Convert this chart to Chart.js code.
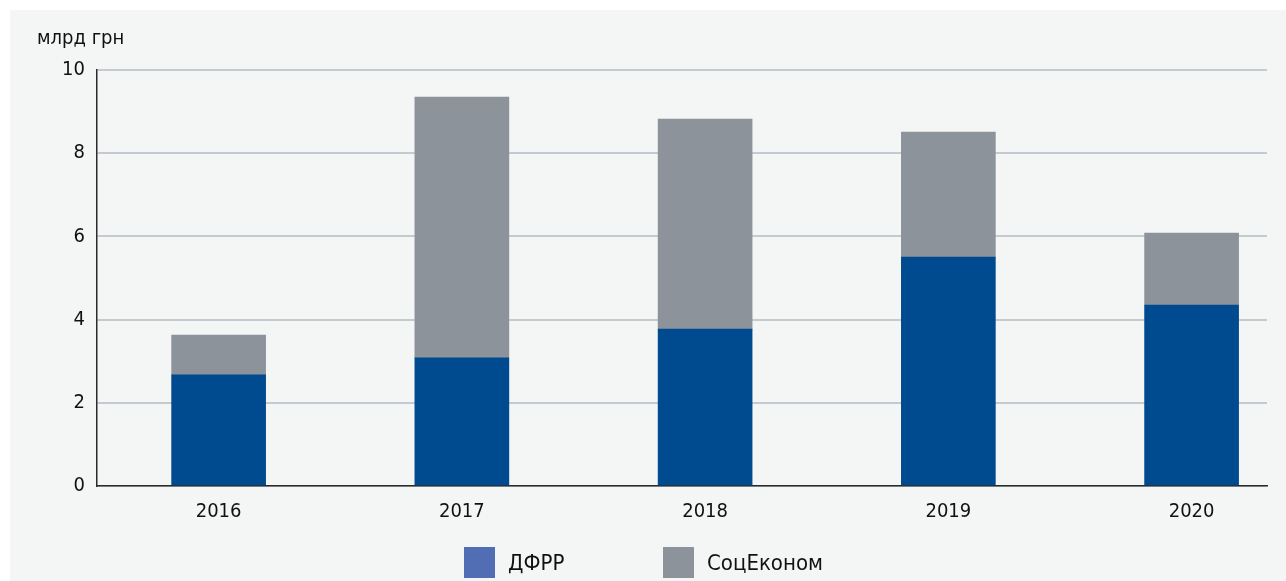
<!DOCTYPE html>
<html lang="uk">
<head>
<meta charset="utf-8">
<title>ДФРР і СоцЕконом, млрд грн</title>
<script src="https://cdn.jsdelivr.net/npm/chart.js@4/dist/chart.umd.min.js"></script>
<style>
  html, body { margin: 0; padding: 0; background: #ffffff; width: 1286px; height: 581px; overflow: hidden; }
  #panel { position: absolute; left: 10px; top: 10px; width: 1276px; height: 571px; background: #f4f6f5; }
  #wrap { position: absolute; left: 0; top: 0; width: 1286px; height: 581px; }
  #legend { position: absolute; left: 464px; top: 547px; margin: 0; padding: 0; list-style: none; display: flex;
            font-family: "DejaVu Sans Condensed", "Roboto", sans-serif; font-size: 22px; color: #111111; }
  #legend li { display: flex; align-items: center; width: 199px; height: 31px; }
  #legend .box { width: 31px; height: 31px; margin-right: 13px; flex: none; }
</style>
</head>
<body>
<div id="panel"></div>
<div id="wrap"><canvas id="chart" width="1286" height="581"></canvas></div>
<ul id="legend"></ul>
<script>
// Years on the horizontal axis
const years = ['2016', '2017', '2018', '2019', '2020'];
// Series names
const seriesNames = ['ДФРР', 'СоцЕконом'];
// Amounts, bn UAH
const dfrr = [2.67, 3.08, 3.77, 5.50, 4.35];
const socEkonom = [0.96, 6.27, 5.05, 3.01, 1.73];
// Vertical axis ticks
const yTicks = [0, 2, 4, 6, 8, 10];
const yUnit = 'млрд грн';

const barColors = ['#004a8f', '#8c939b'];
const legendColors = ['#516db4', '#8c939b'];
const FONT = '"DejaVu Sans Condensed", "Roboto", sans-serif';

const toPoints = (values) => values.map((v, i) => ({ x: i, y: v }));

// Legend rendered as HTML list from the chart's own legend items
const htmlLegend = {
  id: 'htmlLegend',
  afterUpdate(chart) {
    const ul = document.getElementById('legend');
    ul.innerHTML = '';
    const items = chart.options.plugins.legend.labels.generateLabels(chart);
    items.forEach((item) => {
      const li = document.createElement('li');
      const box = document.createElement('span');
      box.className = 'box';
      box.style.background = legendColors[item.datasetIndex];
      const text = document.createElement('span');
      text.textContent = item.text;
      li.appendChild(box);
      li.appendChild(text);
      ul.appendChild(li);
    });
  }
};

new Chart(document.getElementById('chart'), {
  type: 'bar',
  data: {
    datasets: [
      { label: seriesNames[0], data: toPoints(dfrr), backgroundColor: barColors[0] },
      { label: seriesNames[1], data: toPoints(socEkonom), backgroundColor: barColors[1] }
    ]
  },
  options: {
    responsive: false,
    animation: false,
    devicePixelRatio: 1,
    barThickness: 94,
    layout: { padding: { left: 37, right: 19, top: 0, bottom: 43 } },
    plugins: {
      legend: { display: false },
      tooltip: { enabled: false },
      title: {
        display: true,
        text: yUnit,
        align: 'start',
        color: '#111111',
        font: { family: FONT, size: 20, weight: 'normal', lineHeight: 1.2 },
        padding: { top: 27, bottom: 19 }
      }
    },
    scales: {
      x: {
        type: 'linear',
        stacked: true,
        offset: false,
        min: -0.5,
        max: 4.31,
        afterBuildTicks: (axis) => { axis.ticks = years.map((_, i) => ({ value: i })); },
        ticks: {
          callback: (v) => years[v],
          autoSkip: false,
          maxRotation: 0,
          padding: 14,
          color: '#111111',
          font: { family: FONT, size: 20 }
        },
        grid: { display: false, drawTicks: false, offset: false },
        border: { display: true, color: '#2b2b2b', width: 1.5 }
      },
      y: {
        stacked: true,
        min: 0,
        max: 10,
        afterBuildTicks: (axis) => { axis.ticks = yTicks.map((v) => ({ value: v })); },
        afterFit: (axis) => { axis.width = 60; },
        ticks: {
          padding: 12,
          color: '#111111',
          font: { family: FONT, size: 20 }
        },
        grid: { color: '#c3cad0', lineWidth: 2, drawTicks: false },
        border: { display: true, color: '#2b2b2b', width: 1.5 }
      }
    }
  },
  plugins: [htmlLegend]
});
</script>
</body>
</html>
